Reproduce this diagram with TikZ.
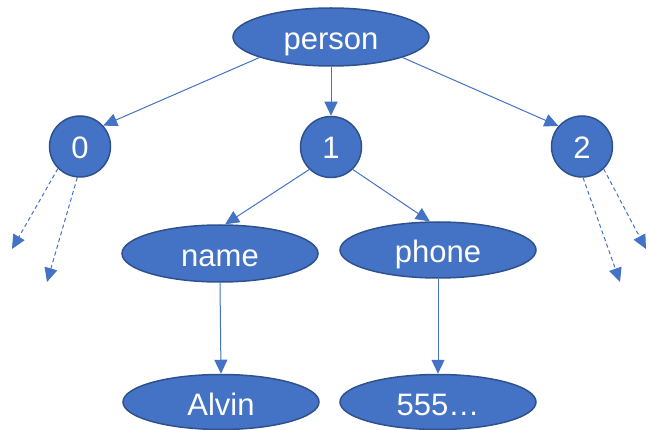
\documentclass[tikz,border=0pt]{standalone}
\usepackage{fontspec}
\setmainfont{Liberation Sans}
\usetikzlibrary{arrows.meta,shapes.geometric}
\definecolor{ofblue}{HTML}{4472C4}
\definecolor{ofdark}{HTML}{2F528F}
\tikzset{
  elnode/.style={ellipse, draw=ofdark, fill=ofblue, line width=1.5pt, text=white,
    minimum width=196pt, minimum height=58pt, inner sep=0pt,
    text height=26pt, text depth=0pt, font=\fontsize{31}{36}\selectfont},
  cnode/.style={circle, draw=ofdark, fill=ofblue, line width=1.5pt, text=white,
    minimum size=61pt, inner sep=0pt,
    text height=24pt, text depth=0pt, font=\fontsize{31}{36}\selectfont},
  conn/.style={draw=ofblue, line width=1pt, -{Triangle[length=14pt,width=13pt]}},
  dconn/.style={conn, dash pattern=on 4pt off 3pt}
}
\begin{document}
\begin{tikzpicture}[x=1pt,y=-1pt]
\useasboundingbox (0,0) rectangle (648,430);
\node[elnode] (person) at (331,37) {person};
\node[cnode] (c0) at (80,146.5) {0};
\node[cnode] (c1) at (331,147) {1};
\node[cnode] (c2) at (582,146.5) {2};
\node[elnode, minimum height=57pt] (name) at (220,253.5) {name};
\node[elnode, minimum height=56pt] (phone) at (438,250) {phone};
\node[elnode, minimum height=55pt] (alvin) at (221,402) {Alvin};
\node[elnode, minimum height=55pt] (num) at (438,402) {555…};
\coordinate (d0a) at (12,249);
\coordinate (d0b) at (47,282);
\coordinate (d2a) at (620,282);
\coordinate (d2b) at (646,249);
\draw[conn] (person.196) -- (c0.42);
\draw[conn] (person.south) -- (c1.north);
\draw[conn] (person.344) -- (c2.139);
\draw[conn] (c1.226) -- (name.80);
\draw[conn] (c1.314) -- (phone.106);
\draw[conn] (name.south) -- (alvin.north);
\draw[conn] (phone.south) -- (num.north);
\draw[dconn] (c0.225) -- (d0a);
\draw[dconn] (c0.265) -- (d0b);
\draw[dconn] (c2.272) -- (d2a);
\draw[dconn] (c2.314) -- (d2b);
\end{tikzpicture}
\end{document}
